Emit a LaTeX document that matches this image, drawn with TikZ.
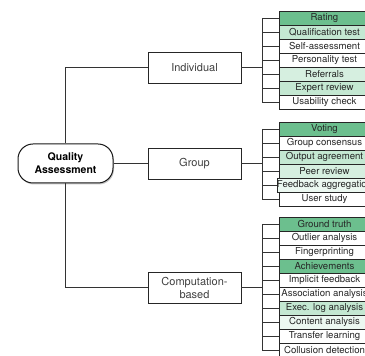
\documentclass[tikz,border=0pt]{standalone}
\usepackage{fontspec}
\setmainfont{TeX Gyre Heros}
\usetikzlibrary{shadows}
\definecolor{qadark}{RGB}{108,191,142}
\definecolor{qamid}{RGB}{196,232,210}
\definecolor{qalight}{RGB}{214,239,224}
\definecolor{qapale}{RGB}{236,248,241}
\tikzset{
  leaf/.style={draw=black!85, line width=0.6pt, minimum width=91pt, minimum height=14pt,
    inner sep=0pt, text=black!85, font=\fontsize{9.6}{12}\selectfont},
  kind/.style={draw=black!85, line width=0.8pt, fill=white, minimum width=93pt, minimum height=31pt,
    align=center, text=black!75, font=\fontsize{11}{13}\selectfont,
    drop shadow={shadow xshift=1pt, shadow yshift=-1.5pt, opacity=0.45}},
  root/.style={draw=black!90, line width=1pt, fill=white, rounded corners=15pt, minimum width=95pt,
    minimum height=39pt, align=center, font=\bfseries\fontsize{10.5}{13}\selectfont,
    drop shadow={shadow xshift=1pt, shadow yshift=-1.5pt, opacity=0.45}},
  wire/.style={draw=black!80, line width=0.7pt}
}
\begin{document}
\begin{tikzpicture}[x=1pt,y=1pt]
  \useasboundingbox (0,0) rectangle (365,356);
  \clip (0,0) rectangle (365,356);
  % main boxes
  \node[root] (qa) at (65.5,192.5) {Quality\\Assessment};
  \node[kind] (ind) at (194.5,288.5) {Individual};
  \node[kind] (grp) at (194.5,192.5) {Group};
  \node[kind] (comp) at (194.5,68.5) {Computation-\\based};
  \coordinate (br) at (262,0);
  % leaves
  \foreach \t/\c [count=\i] in {Rating/qadark, Qualification test/qamid, Self-assessment/white,
      Personality test/white, Referrals/qalight, Expert review/qamid, Usability check/white}
    \node[leaf, fill=\c] (ind\i) at (324.5,352-14*\i) {\t};
  \foreach \t/\c [count=\i] in {Voting/qadark, Group consensus/white, Output agreement/qamid,
      Peer review/qalight, Feedback aggregation/qapale, User study/white}
    \node[leaf, fill=\c] (grp\i) at (324.5,241-14*\i) {\t};
  \foreach \t/\c [count=\i] in {Ground truth/qadark, Outlier analysis/white, Fingerprinting/white,
      Achievements/qadark, Implicit feedback/white, Association analysis/white,
      Exec. log analysis/qamid, Content analysis/qapale, Transfer learning/white,
      Collusion detection/white}
    \node[leaf, fill=\c] (comp\i) at (324.5,146-14*\i) {\t};
  % connectors
  \draw[wire] (qa.north) |- (ind.west);
  \draw[wire] (qa) -- (grp);
  \draw[wire] (qa.south) |- (comp.west);
  \draw[wire] (ind.east) -- (br |- ind.east);
  \draw[wire] (grp.east) -- (br |- grp.east);
  \draw[wire] (comp.east) -- (br |- comp.east);
  \draw[wire] (br |- ind1) -- (br |- ind7);
  \draw[wire] (br |- grp1) -- (br |- grp6);
  \draw[wire] (br |- comp1) -- (br |- comp10);
  \foreach \i in {1,...,7} \draw[wire] (br |- ind\i) -- (ind\i.west);
  \foreach \i in {1,...,6} \draw[wire] (br |- grp\i) -- (grp\i.west);
  \foreach \i in {1,...,10} \draw[wire] (br |- comp\i) -- (comp\i.west);
\end{tikzpicture}
\end{document}
